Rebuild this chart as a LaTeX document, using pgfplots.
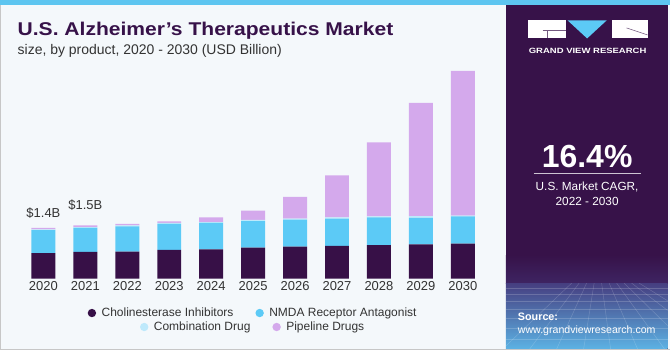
\documentclass[border=0pt]{standalone}
\usepackage{pgfplots}
\pgfplotsset{compat=1.18}
\usepackage{pgfplotstable}
\usepackage{fontspec}
\setmainfont{Liberation Sans}
\definecolor{bgc}{HTML}{F4F8FB}
\definecolor{stripe}{HTML}{5DC5F0}
\definecolor{panel}{HTML}{371249}
\definecolor{panelb}{HTML}{3E2462}
\definecolor{gridtop}{HTML}{463E80}
\definecolor{gridbot}{HTML}{5CB2E4}
\definecolor{cholc}{HTML}{371047}
\definecolor{nmdac}{HTML}{5CCAF6}
\definecolor{combc}{HTML}{BEE9FB}
\definecolor{pipec}{HTML}{D4A9EC}
\definecolor{txt}{HTML}{333333}
\definecolor{titlec}{HTML}{371249}
\pgfplotsset{
  legrow/.style={
    at={(22pt,71.5pt)}, anchor=south west, scale only axis,
    width=462pt, height=216pt,
    xmin=0, xmax=1, ymin=0, ymax=1, hide axis,
    legend columns=2,
    legend style={anchor=center, draw=none, fill=none,
      font=\fontsize{12}{14}\selectfont, text=txt,
      /tikz/every odd column/.append style={column sep=3.5pt},
      /tikz/every even column/.append style={column sep=20pt}},
  }
}
\pgfplotstableread{
x chol nmda comb pipe
0 0.71 0.64 0.02 0.04
1 0.74 0.67 0.02 0.05
2 0.75 0.70 0.03 0.04
3 0.80 0.72 0.03 0.04
4 0.81 0.74 0.02 0.13
5 0.86 0.74 0.03 0.26
6 0.89 0.75 0.03 0.60
7 0.91 0.76 0.03 1.17
8 0.93 0.77 0.03 2.06
9 0.95 0.74 0.05 3.15
10 0.97 0.76 0.02 4.03
}\datatable
\begin{document}
\begin{tikzpicture}
\begin{scope}[x=1pt,y=1pt]
% background
\fill[bgc] (0,0) rectangle (670,350);
\draw[black!22, line width=1pt] (0.5,0) -- (0.5,350);
\draw[black!22, line width=1pt] (0,0.5) -- (670,0.5);
\fill[stripe] (0,345.5) rectangle (670,350);
% right panel
\fill[panel] (506,1) rectangle (668,345.5);
\shade[top color=panel, bottom color=panelb] (506,67) rectangle (668,95);
\shade[top color=gridtop, bottom color=gridbot] (506,1) rectangle (668,67);
\begin{scope}[white, opacity=0.18, line width=0.5pt]
\foreach \yy in {62,56,49,41,32,22,11}{\draw (506,\yy) -- (668,\yy);}
\clip (506,1) rectangle (668,67);
\foreach \xx in {-60,-30,0,30,60,90,120,150,180,210}{\draw (587+\xx*0.25,67) -- (587+\xx*0.9-30,1);}
\end{scope}
% logo
\fill[white] (528,312) rectangle (566,330);
\draw[panel!70!white, line width=0.6pt] (543,320) -- (566,320);
\draw[panel!70!white, line width=0.6pt] (548,320) -- (548,312);
\fill[nmdac] (568,330) -- (607,330) -- (587.5,312) -- cycle;
\fill[white] (612,312) rectangle (648,330);
\draw[panel!70!white, line width=0.6pt] (627,322.5) -- (648,315.5);
\node[anchor=base, white, inner sep=0] at (588,297.3) {\scalebox{1.25}[1]{\fontsize{7.6}{9}\selectfont\bfseries GRAND VIEW RESEARCH}};
% CAGR
\node[anchor=base, white, inner sep=0] at (587.5,183) {\fontsize{32}{36}\selectfont\bfseries 16.4\%};
\draw[white!75!panel, line width=1pt] (534,176.7) -- (641,176.7);
\node[anchor=base, white, inner sep=0] at (587.5,159.3) {\fontsize{11.8}{14}\selectfont U.S. Market CAGR,};
\node[anchor=base, white, inner sep=0] at (587.5,145) {\fontsize{11.8}{14}\selectfont 2022 - 2030};
\node[anchor=base west, white, inner sep=0] at (518,30) {\fontsize{10.8}{13}\selectfont\bfseries Source:};
\node[anchor=base west, white, inner sep=0] at (518,16.7) {\fontsize{10.6}{13}\selectfont www.grandviewresearch.com};
% titles
\node[anchor=base west, inner sep=0, text=titlec] at (17,315) {\scalebox{1.14}[1]{\fontsize{18.5}{22}\selectfont\bfseries U.S. Alzheimer’s Therapeutics Market}};
\node[anchor=base west, inner sep=0, text=txt] at (17,296) {\fontsize{14}{16}\selectfont size, by product, 2020 - 2030 (USD Billion)};
\end{scope}
% main axis
\begin{axis}[
  at={(22pt,71.5pt)}, anchor=south west, scale only axis,
  width=462pt, height=216pt,
  xmin=-0.5, xmax=10.5, ymin=0, ymax=6,
  axis line style={draw=none}, ytick=\empty,
  xtick={0,...,10}, major tick length=0pt,
  xticklabels={2020,2021,2022,2023,2024,2025,2026,2027,2028,2029,2030},
  xticklabel style={font=\fontsize{13}{15}\selectfont, text=txt, inner sep=3pt},
  /pgf/number format/assume math mode=true,
  ybar stacked, bar width=24pt, clip=false,
]
\addplot[fill=cholc, draw=none] table[x=x, y=chol] {\datatable};
\addplot[fill=nmdac, draw=none] table[x=x, y=nmda] {\datatable};
\addplot[fill=combc, draw=none] table[x=x, y=comb] {\datatable};
\addplot[fill=pipec, draw=none] table[x=x, y=pipe] {\datatable};
\node[text=txt, font=\fontsize{13}{15}\selectfont] at (axis cs:0,1.82) {\$1.4B};
\node[text=txt, font=\fontsize{13}{15}\selectfont] at (axis cs:1,2.04) {\$1.5B};
\end{axis}
% legend row 1
\begin{axis}[legrow,
  legend image code/.code={\fill[#1,draw=none] (0pt,0pt) circle (4.2pt);},
  legend style={at={(0.5,-0.1597)}}]
\addlegendimage{fill=cholc}
\addlegendentry{Cholinesterase Inhibitors}
\addlegendimage{fill=nmdac}
\addlegendentry{NMDA Receptor Antagonist}
\end{axis}
% legend row 2
\begin{axis}[legrow,
  legend image code/.code={\fill[#1,draw=none] (0pt,0pt) circle (4.2pt);},
  legend style={at={(0.5,-0.2245)}}]
\addlegendimage{fill=combc}
\addlegendentry{Combination Drug}
\addlegendimage{fill=pipec}
\addlegendentry{Pipeline Drugs}
\end{axis}
\end{tikzpicture}
\end{document}
